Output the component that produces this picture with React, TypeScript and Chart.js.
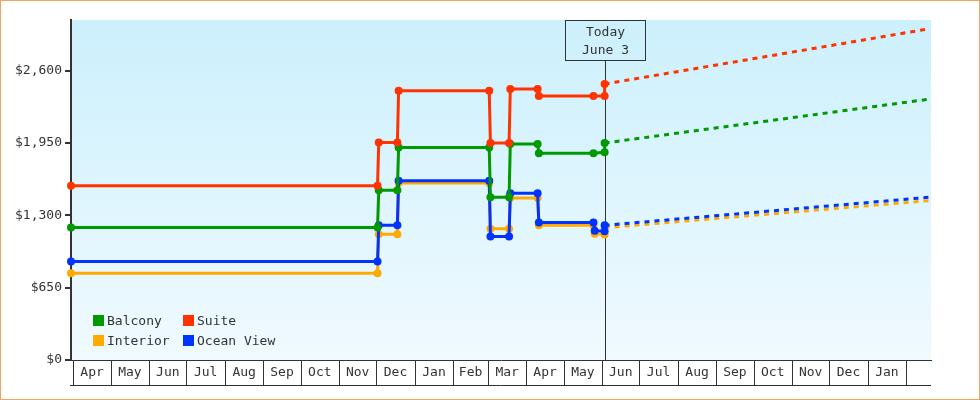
import React, { useEffect, useRef } from 'react';
import { Chart, registerables } from 'chart.js';

Chart.register(...registerables);

// ---------- data ----------
const monthLabels = ['Apr', 'May', 'Jun', 'Jul', 'Aug', 'Sep', 'Oct', 'Nov', 'Dec', 'Jan', 'Feb', 'Mar',
  'Apr', 'May', 'Jun', 'Jul', 'Aug', 'Sep', 'Oct', 'Nov', 'Dec', 'Jan'];
const monthStarts = ['2014-04-01', '2014-05-01', '2014-06-01', '2014-07-01', '2014-08-01', '2014-09-01',
  '2014-10-01', '2014-11-01', '2014-12-01', '2015-01-01', '2015-02-01', '2015-03-01', '2015-04-01',
  '2015-05-01', '2015-06-01', '2015-07-01', '2015-08-01', '2015-09-01', '2015-10-01', '2015-11-01',
  '2015-12-01', '2016-01-01', '2016-02-01'];
const xRange = ['2014-03-30', '2016-02-21'];
const yTicks = [0, 650, 1300, 1950, 2600];
const yMax = 3055;
const today = '2015-06-03';
const todayLabel = ['Today', 'June 3'];

const suiteDates = ['2014-03-30', '2014-12-02', '2014-12-03', '2014-12-18', '2014-12-19', '2015-03-02',
  '2015-03-03', '2015-03-18', '2015-03-19', '2015-04-10', '2015-04-11', '2015-05-25', '2015-06-03', '2015-06-03'];
const suitePrices = [1565, 1565, 1955, 1955, 2420, 2420, 1950, 1950, 2435, 2435, 2372, 2372, 2372, 2480];

const balconyDates = suiteDates;
const balconyPrices = [1190, 1190, 1525, 1525, 1910, 1910, 1462, 1462, 1940, 1940, 1858, 1858, 1866, 1950];

const oceanDates = ['2014-03-30', '2014-12-02', '2014-12-03', '2014-12-18', '2014-12-19', '2015-03-02',
  '2015-03-03', '2015-03-18', '2015-03-19', '2015-04-10', '2015-04-11', '2015-05-25', '2015-05-26',
  '2015-06-03', '2015-06-03'];
const oceanPrices = [885, 885, 1210, 1210, 1611, 1611, 1110, 1110, 1498, 1498, 1235, 1235, 1162, 1157, 1210];

const interiorDates = oceanDates;
const interiorPrices = [780, 780, 1130, 1130, 1590, 1590, 1180, 1180, 1456, 1456, 1210, 1210, 1135, 1128, 1188];

const forecastDates = ['2015-06-03', '2016-02-19'];
const suiteForecast = [2480, 2975];
const balconyForecast = [1950, 2343];
const oceanForecast = [1210, 1462];
const interiorForecast = [1188, 1432];

const seriesNames = ['Suite', 'Balcony', 'Ocean View', 'Interior'];
const seriesColors = ['#ff3300', '#009900', '#0033ff', '#ffaa00'];
const legendOrder = ['Balcony', 'Suite', 'Interior', 'Ocean View'];

// ---------- helpers ----------
const FONT = '"DejaVu Sans Mono", monospace';
const INK = '#333333';
const day = (s: string) => {
  const [y, m, d] = s.split('-').map(Number);
  return Date.UTC(y, m - 1, d) / 86400000;
};

const seriesData = [
  { dates: suiteDates, prices: suitePrices, forecast: suiteForecast },
  { dates: balconyDates, prices: balconyPrices, forecast: balconyForecast },
  { dates: oceanDates, prices: oceanPrices, forecast: oceanForecast },
  { dates: interiorDates, prices: interiorPrices, forecast: interiorForecast },
];

export default function App() {
  const ref = useRef<HTMLCanvasElement>(null);

  useEffect(() => {
    if (!ref.current) return;
    const starts = monthStarts.map(day);
    const mids = monthLabels.map((_, i) => (starts[i] + starts[i + 1]) / 2);
    const todayX = day(today);

    const datasets: any[] = [];
    seriesData.forEach((s, i) => {
      const color = seriesColors[i];
      datasets.push({
        label: seriesNames[i],
        data: s.dates.map((d, j) => ({ x: day(d), y: s.prices[j] })),
        borderColor: color,
        backgroundColor: color,
        pointBackgroundColor: color,
        borderWidth: 3,
        pointRadius: 4,
        pointBorderWidth: 0,
        pointHoverRadius: 4,
        fill: false,
        tension: 0,
        clip: false,
        order: i * 2,
      });
      datasets.push({
        label: seriesNames[i] + ' forecast',
        data: forecastDates.map((d, j) => ({ x: day(d), y: s.forecast[j] })),
        borderColor: color,
        backgroundColor: color,
        borderWidth: 3,
        borderDash: [5, 5],
        pointRadius: 0,
        pointHoverRadius: 0,
        fill: false,
        tension: 0,
        order: i * 2 + 1,
      });
    });

    const bgPlugin = {
      id: 'bg',
      beforeDraw(chart: any) {
        const { ctx, chartArea: a } = chart;
        const g = ctx.createLinearGradient(0, a.top, 0, a.bottom);
        g.addColorStop(0, '#ccf0fc');
        g.addColorStop(1, '#f0faff');
        ctx.save();
        ctx.fillStyle = g;
        ctx.fillRect(a.left, a.top, a.right - a.left, a.bottom - a.top);
        ctx.restore();
      },
    };

    const todayPlugin = {
      id: 'today',
      beforeDatasetsDraw(chart: any) {
        const { ctx, chartArea: a } = chart;
        const px = Math.round(chart.scales.x.getPixelForValue(todayX)) + 0.5;
        ctx.save();
        ctx.strokeStyle = INK;
        ctx.lineWidth = 1;
        ctx.beginPath();
        ctx.moveTo(px, a.top + 40);
        ctx.lineTo(px, a.bottom);
        ctx.stroke();
        ctx.strokeRect(px - 40, a.top + 0.5, 80, 40);
        ctx.fillStyle = INK;
        ctx.font = '13px ' + FONT;
        ctx.textAlign = 'center';
        ctx.textBaseline = 'alphabetic';
        ctx.fillText(todayLabel[0], px, a.top + 16);
        ctx.fillText(todayLabel[1], px, a.top + 34);
        ctx.restore();
      },
    };

    const monthBoxPlugin = {
      id: 'monthBoxes',
      afterDraw(chart: any) {
        const { ctx, chartArea: a } = chart;
        const xs = chart.scales.x;
        const y0 = a.bottom;
        const y1 = a.bottom + 25;
        ctx.save();
        ctx.strokeStyle = INK;
        ctx.lineWidth = 1;
        ctx.beginPath();
        starts.forEach((d) => {
          const px = Math.round(xs.getPixelForValue(d)) + 0.5;
          ctx.moveTo(px, y0);
          ctx.lineTo(px, y1);
        });
        ctx.moveTo(a.left - 1, y1 + 0.5);
        ctx.lineTo(a.right, y1 + 0.5);
        ctx.stroke();
        ctx.restore();
      },
    };

    const chart = new Chart(ref.current, {
      type: 'line',
      data: { datasets },
      options: {
        animation: false,
        responsive: false,
        maintainAspectRatio: false,
        layout: { padding: { top: 20, right: 49, bottom: 0, left: 0 } },
        scales: {
          x: {
            type: 'linear',
            min: day(xRange[0]),
            max: day(xRange[1]),
            grid: { display: false, drawTicks: false },
            border: { display: true, color: INK, width: 1 },
            afterBuildTicks: (s: any) => {
              s.ticks = mids.map((v) => ({ value: v }));
            },
            afterFit: (s: any) => {
              s.height = 40;
            },
            ticks: {
              autoSkip: false,
              maxRotation: 0,
              minRotation: 0,
              padding: 5,
              color: INK,
              font: { family: FONT, size: 13 },
              callback: (_v: any, i: number) => monthLabels[i],
            },
          },
          y: {
            type: 'linear',
            min: 0,
            max: yMax,
            afterBuildTicks: (s: any) => {
              s.ticks = yTicks.map((v) => ({ value: v }));
            },
            afterFit: (s: any) => {
              s.width = 71;
            },
            grid: { drawOnChartArea: false, tickLength: 6, color: INK, lineWidth: 2 },
            border: { display: true, color: INK, width: 2 },
            ticks: {
              padding: 3,
              color: INK,
              font: { family: FONT, size: 13 },
              callback: (v: any) => '$' + Number(v).toLocaleString('en-US'),
            },
          },
        },
        plugins: {
          legend: { display: false },
          tooltip: { enabled: false },
        },
      },
      plugins: [bgPlugin, todayPlugin, monthBoxPlugin],
    });
    return () => chart.destroy();
  }, []);

  return (
    <div style={{ position: 'absolute', left: 0, top: 0, width: 980, height: 400, background: '#fff' }}>
      <canvas ref={ref} width={980} height={400} style={{ display: 'block' }} />
      {legendOrder.map((name, i) => {
        const idx = seriesNames.indexOf(name);
        const col = i % 2;
        const row = Math.floor(i / 2);
        return (
          <div
            key={name}
            style={{
              position: 'absolute',
              left: 93 + col * 90,
              top: 315 + row * 20,
              height: 11,
              display: 'flex',
              alignItems: 'center',
              font: '13px ' + FONT,
              color: INK,
              whiteSpace: 'nowrap',
            }}
          >
            <span style={{ display: 'inline-block', width: 11, height: 11, background: seriesColors[idx], marginRight: 3 }} />
            <span style={{ lineHeight: '11px' }}>{name}</span>
          </div>
        );
      })}
      <div
        style={{
          position: 'absolute',
          left: 0,
          top: 0,
          width: 980,
          height: 400,
          boxSizing: 'border-box',
          border: '1px solid #e9a75f',
          pointerEvents: 'none',
        }}
      />
    </div>
  );
}
